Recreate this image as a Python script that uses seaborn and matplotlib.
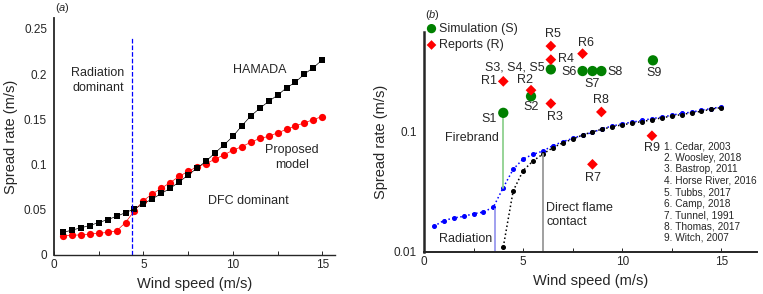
import numpy as np
import pandas as pd
import seaborn as sns
import matplotlib.pyplot as plt
from matplotlib.ticker import FixedLocator, FuncFormatter

# ---- panel (a) data ----
wind_a = [0.5, 1.0, 1.5, 2.0, 2.5, 3.0, 3.5, 4.0, 4.5, 5.0, 5.5, 6.0, 6.5, 7.0, 7.5,
          8.0, 8.5, 9.0, 9.5, 10.0, 10.5, 11.0, 11.5, 12.0, 12.5, 13.0, 13.5, 14.0, 14.5, 15.0]
hamada = [0.0248, 0.0274, 0.0300, 0.0325, 0.0358, 0.0390, 0.0427, 0.0467, 0.0510, 0.0566,
          0.0620, 0.0679, 0.0737, 0.0807, 0.0883, 0.0960, 0.1036, 0.1128, 0.1215, 0.1310,
          0.1427, 0.1536, 0.1620, 0.1697, 0.1766, 0.1847, 0.1910, 0.2000, 0.2070, 0.2157]
proposed = [0.0212, 0.0215, 0.0223, 0.0230, 0.0240, 0.0248, 0.0266, 0.0358, 0.0490, 0.0600,
            0.0675, 0.0737, 0.0800, 0.0869, 0.0923, 0.0974, 0.1010, 0.1058, 0.1106, 0.1157,
            0.1197, 0.1245, 0.1288, 0.1310, 0.1350, 0.1387, 0.1427, 0.1460, 0.1496, 0.1530]

# ---- panel (b) data ----
wind_rad = wind_a
rad_model = [0.0163, 0.0182, 0.0191, 0.0197, 0.0207, 0.0214, 0.0235, 0.0341, 0.0483, 0.0588,
             0.0642, 0.0684, 0.0757, 0.0817, 0.0870, 0.0927, 0.0975, 0.1050, 0.1100, 0.1150,
             0.1186, 0.1224, 0.1270, 0.1303, 0.1355, 0.1400, 0.1435, 0.1490, 0.1538, 0.1587]
wind_dfc = [4.0, 4.5, 5.0, 5.5, 6.0, 6.5, 7.0, 7.5, 8.0, 8.5, 9.0, 9.5, 10.0, 10.5, 11.0,
            11.5, 12.0, 12.5, 13.0, 13.5, 14.0, 14.5, 15.0]
dfc_model = [0.0110, 0.0320, 0.0471, 0.0566, 0.0646, 0.0729, 0.0800, 0.0859, 0.0927, 0.0987,
             0.1038, 0.1086, 0.1127, 0.1164, 0.1200, 0.1240, 0.1288, 0.1330, 0.1370, 0.1416,
             0.1460, 0.1520, 0.1566]

sim_names = ["S1", "S2", "S3", "S6", "S7", "S8", "S9"]
sim_wind = [4.0, 5.4, 6.4, 8.0, 8.5, 8.95, 11.55]
sim_rate = [0.1416, 0.194, 0.324, 0.314, 0.314, 0.314, 0.385]

rep_names = ["R1", "R2", "R3", "R4", "R5", "R6", "R7", "R8", "R9"]
rep_wind = [4.0, 5.4, 6.4, 6.4, 6.4, 8.0, 8.5, 8.95, 11.5]
rep_rate = [0.258, 0.218, 0.169, 0.390, 0.505, 0.437, 0.0531, 0.144, 0.0915]

fire_list = ["1. Cedar, 2003", "2. Woosley, 2018", "3. Bastrop, 2011",
             "4. Horse River, 2016", "5. Tubbs, 2017", "6. Camp, 2018",
             "7. Tunnel, 1991", "8. Thomas, 2017", "9. Witch, 2007"]

sns.set_style("ticks")
plt.rcParams['font.family'] = ['Liberation Sans', 'DejaVu Sans']
plt.rcParams['mathtext.fontset'] = 'custom'
plt.rcParams['mathtext.it'] = 'Liberation Sans:italic'

fig = plt.figure(figsize=(7.63, 2.94), dpi=100)
ax1 = fig.add_axes([0.0708, 0.133, 0.368, 0.806])
ax2 = fig.add_axes([0.5557, 0.143, 0.4364, 0.748])

df_a = pd.DataFrame({'wind': wind_a, 'hamada': hamada, 'proposed': proposed})

# panel (a)
sns.lineplot(data=df_a, x='wind', y='proposed', ax=ax1, color='red', marker='o',
             markersize=5.2, markeredgewidth=0, linewidth=0.5)
sns.lineplot(data=df_a, x='wind', y='hamada', ax=ax1, color='black', marker='s',
             markersize=4.5, markeredgewidth=0, linewidth=0.5)
ax1.plot([4.36, 4.36], [0, 0.241], color='blue', linestyle='--', linewidth=0.9)

ax1.set_xlim(0, 15.7)
ax1.set_ylim(0, 0.262)
ax1.xaxis.set_major_locator(FixedLocator([0, 5, 10, 15]))
ax1.xaxis.set_minor_locator(FixedLocator([2.5, 7.5, 12.5]))
ax1.yaxis.set_major_locator(FixedLocator([0, 0.05, 0.1, 0.15, 0.2, 0.25]))
ax1.yaxis.set_major_formatter(FuncFormatter(lambda v, p: f"{v:g}"))
ax1.set_xlabel("Wind speed (m/s)", fontsize=10.5)
ax1.set_ylabel("Spread rate (m/s)", fontsize=10.5)

ax1.text(2.45, 0.193, "Radiation\ndominant", ha='center', va='center', fontsize=9,
         linespacing=1.3)
ax1.text(11.5, 0.204, "HAMADA", ha='center', va='center', fontsize=9)
ax1.text(13.3, 0.108, "Proposed\nmodel", ha='center', va='center', fontsize=9,
         linespacing=1.3)
ax1.text(10.85, 0.060, "DFC dominant", ha='center', va='center', fontsize=9)

# panel (b)
ax2.set_yscale('log')
ax2.plot(wind_rad, rad_model, color='blue', linestyle=':', marker='o', markersize=2.6,
         linewidth=1.1)
ax2.plot(wind_dfc, dfc_model, color='black', linestyle=':', marker='o', markersize=2.6,
         linewidth=1.1)

ax2.plot([4.0, 4.0], [0.0341, 0.1416], color='#8fd18f', linewidth=1.3)
ax2.plot([3.57, 3.57], [0.0095, 0.0228], color='#9999ee', linewidth=1.3)
ax2.plot([6.0, 6.0], [0.0095, 0.0646], color='#999999', linewidth=1.3)

sns.scatterplot(x=sim_wind, y=sim_rate, ax=ax2, color='green', s=55, edgecolor='none',
                marker='o', label="Simulation (S)", zorder=3)
sns.scatterplot(x=rep_wind, y=rep_rate, ax=ax2, color='red', s=30, edgecolor='none',
                marker='D', label="Reports (R)", zorder=3)

lab_fs = 9
sim_labels = [("S1", 3.3, 0.127, 'center'), ("S2", 5.4, 0.157, 'center'),
              ("S3, S4, S5", 6.1, 0.337, 'right'), ("S6", 7.7, 0.31, 'right'),
              ("S7", 8.46, 0.244, 'center'), ("S8", 9.25, 0.31, 'left'),
              ("S9", 11.6, 0.30, 'center')]
for name, x, y, ha in sim_labels:
    ax2.text(x, y, name, ha=ha, va='center', fontsize=lab_fs)
rep_labels = [("R1", 3.27, 0.258), ("R2", 5.1, 0.263), ("R3", 6.6, 0.131),
              ("R4", 7.17, 0.397), ("R5", 6.5, 0.63), ("R6", 8.15, 0.538),
              ("R7", 8.53, 0.0412), ("R8", 8.95, 0.182), ("R9", 11.5, 0.072)]
for name, x, y in rep_labels:
    ax2.text(x, y, name, ha='center', va='center', fontsize=lab_fs)

ax2.text(2.4, 0.087, "Firebrand", ha='center', va='center', fontsize=9)
ax2.text(2.1, 0.0128, "Radiation", ha='center', va='center', fontsize=9)
ax2.text(6.17, 0.0202, "Direct flame\ncontact", ha='left', va='center', fontsize=9,
         linespacing=1.3)
for i, line in enumerate(fire_list):
    ax2.text(0.72, 0.48 - i * 0.052, line, transform=ax2.transAxes, ha='left',
             va='center', fontsize=7.3)

ax2.set_xlim(0, 16.8)
ax2.set_ylim(0.01, 0.66)
ax2.xaxis.set_major_locator(FixedLocator([0, 5, 10, 15]))
ax2.xaxis.set_minor_locator(FixedLocator([2.5, 7.5, 12.5]))
ax2.yaxis.set_major_locator(FixedLocator([0.01, 0.1]))
ax2.yaxis.set_minor_locator(FixedLocator([]))
ax2.yaxis.set_major_formatter(FuncFormatter(lambda v, p: f"{v:g}"))
ax2.set_xlabel("Wind speed (m/s)", fontsize=10.5)
ax2.set_ylabel("Spread rate (m/s)", fontsize=10.5)

leg = ax2.legend(loc='upper left', bbox_to_anchor=(-0.015, 1.07), frameon=False,
                 fontsize=9, handletextpad=0.1, borderpad=0, labelspacing=0.35,
                 handlelength=1.0, markerscale=0.9)

for ax in (ax1, ax2):
    sns.despine(ax=ax)
    ax.spines['bottom'].set_linewidth(1.0)
    ax.tick_params(axis='both', which='both', direction='in', labelsize=8.5, length=3,
                   width=0.7, pad=3)
    ax.tick_params(axis='y', which='major', length=0, pad=5)
ax1.spines['left'].set_linewidth(1.3)
ax2.spines['left'].set_linewidth(1.8)
ax2.spines['bottom'].set_linewidth(1.4)

fig.text(55 / 763, 1 - 8 / 294, "($\\mathit{a}$)", fontsize=8, va='center', ha='left')
fig.text(425 / 763, 1 - 15 / 294, "($\\mathit{b}$)", fontsize=8, va='center', ha='left')

fig.savefig("out.png", dpi=100)
